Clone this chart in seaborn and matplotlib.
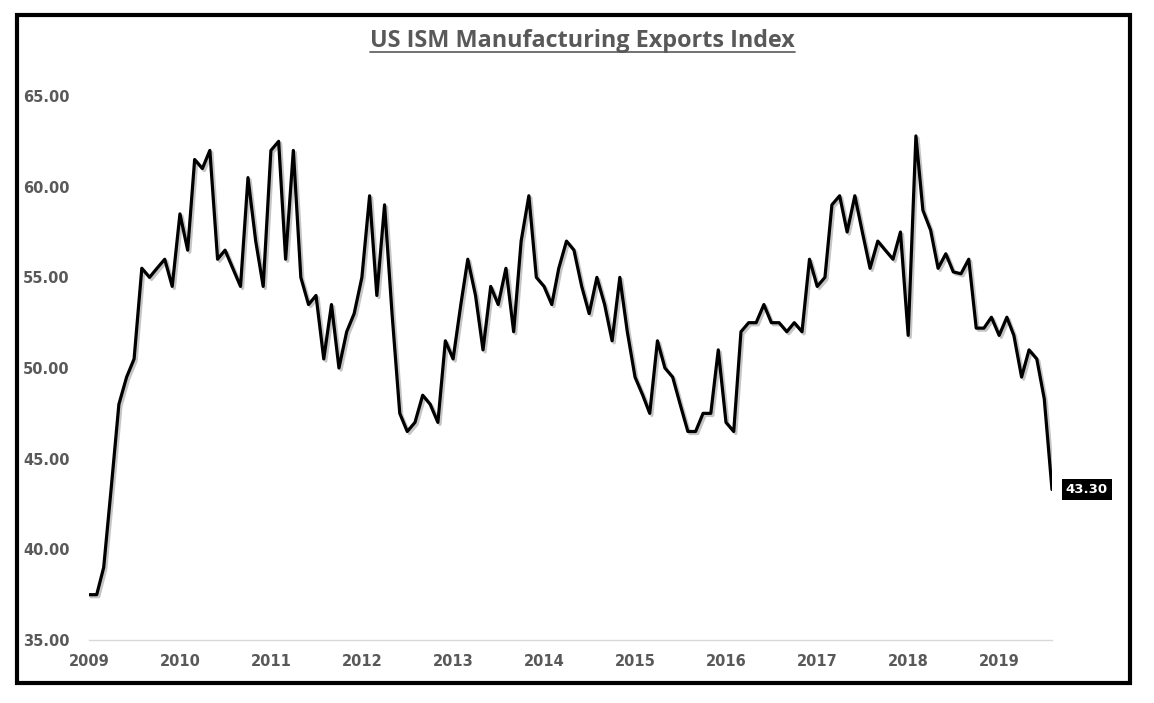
import matplotlib
matplotlib.use("Agg")
import matplotlib.pyplot as plt
import matplotlib.patheffects as pe
from matplotlib.patches import Rectangle
from matplotlib.lines import Line2D
import seaborn as sns
import pandas as pd

# ---- data ----
start_month = "2009-01-01"
export_index = [
    37.5, 37.5, 39.0, 43.5, 48.0, 49.5, 50.5, 55.5, 55.0, 55.5, 56.0, 54.5,  # 2009
    58.5, 56.5, 61.5, 61.0, 62.0, 56.0, 56.5, 55.5, 54.5, 60.5, 57.0, 54.5,  # 2010
    62.0, 62.5, 56.0, 62.0, 55.0, 53.5, 54.0, 50.5, 53.5, 50.0, 52.0, 53.0,  # 2011
    55.0, 59.5, 54.0, 59.0, 53.0, 47.5, 46.5, 47.0, 48.5, 48.0, 47.0, 51.5,  # 2012
    50.5, 53.5, 56.0, 54.0, 51.0, 54.5, 53.5, 55.5, 52.0, 57.0, 59.5, 55.0,  # 2013
    54.5, 53.5, 55.5, 57.0, 56.5, 54.5, 53.0, 55.0, 53.5, 51.5, 55.0, 52.0,  # 2014
    49.5, 48.5, 47.5, 51.5, 50.0, 49.5, 48.0, 46.5, 46.5, 47.5, 47.5, 51.0,  # 2015
    47.0, 46.5, 52.0, 52.5, 52.5, 53.5, 52.5, 52.5, 52.0, 52.5, 52.0, 56.0,  # 2016
    54.5, 55.0, 59.0, 59.5, 57.5, 59.5, 57.5, 55.5, 57.0, 56.5, 56.0, 57.5,  # 2017
    51.8, 62.8, 58.7, 57.6, 55.5, 56.3, 55.3, 55.2, 56.0, 52.2, 52.2, 52.8,  # 2018
    51.8, 52.8, 51.8, 49.5, 51.0, 50.5, 48.3, 43.3,                          # 2019
]
year_ticks = list(range(2009, 2020))
y_ticks = [35, 40, 45, 50, 55, 60, 65]

dates = pd.date_range(start_month, periods=len(export_index), freq="MS")
df = pd.DataFrame({"date": dates, "value": export_index})

# ---- figure ----
sns.set_theme(style="white")
fig = plt.figure(figsize=(11.54, 7.03), dpi=100)
ax = fig.add_axes([0.0771, 0.0896, 0.8345, 0.7738])

sns.lineplot(data=df, x="date", y="value", color="black", linewidth=2.3, ax=ax,
             path_effects=[pe.SimpleLineShadow(offset=(1.5, -1.5), shadow_color="gray", alpha=0.45),
                           pe.Normal()])

# axes styling
ax.set_xlim(dates[0], dates[-1])
ax.set_ylim(35, 65)
ax.set_xticks([pd.Timestamp(f"{y}-01-01") for y in year_ticks])
ax.set_xticklabels([str(y) for y in year_ticks])
ax.set_yticks(y_ticks)
ax.set_yticklabels([f"{v:.2f}" for v in y_ticks])
ax.set_xlabel("")
ax.set_ylabel("")
for side in ["top", "right", "left"]:
    ax.spines[side].set_visible(False)
ax.spines["bottom"].set_color("#d9d9d9")
ax.spines["bottom"].set_linewidth(1)
ax.tick_params(axis="x", length=4, color="#d9d9d9", width=1, pad=6,
               labelsize=10.5, labelcolor="#595959")
ax.tick_params(axis="y", length=0, pad=14, labelsize=10.5, labelcolor="#595959")
for lbl in ax.get_xticklabels() + ax.get_yticklabels():
    lbl.set_fontweight("bold")

# last value label
ax.annotate(f"{export_index[-1]:.2f}", xy=(dates[-1], export_index[-1]),
            xytext=(10, 0), textcoords="offset points", ha="left", va="center",
            fontsize=9.5, fontweight="bold", color="white",
            bbox=dict(boxstyle="square,pad=0.3", fc="black", ec="none"))

# title with underline
title = fig.text(0.505, 0.941, "US ISM Manufacturing Exports Index", ha="center", va="center",
                 fontsize=16.8, fontweight="bold", color="#595959", family="Open Sans")
fig.canvas.draw()
bb = title.get_window_extent().transformed(fig.transFigure.inverted())
fig.add_artist(Line2D([bb.x0, bb.x1], [bb.y0 + 0.002, bb.y0 + 0.002], transform=fig.transFigure,
                      color="#595959", linewidth=1.2))

# outer frame
fig.add_artist(Rectangle((0.0147, 0.0284), 0.9645, 0.950, transform=fig.transFigure,
                         fill=False, edgecolor="black", linewidth=3))

fig.savefig("out.png", dpi=100)
